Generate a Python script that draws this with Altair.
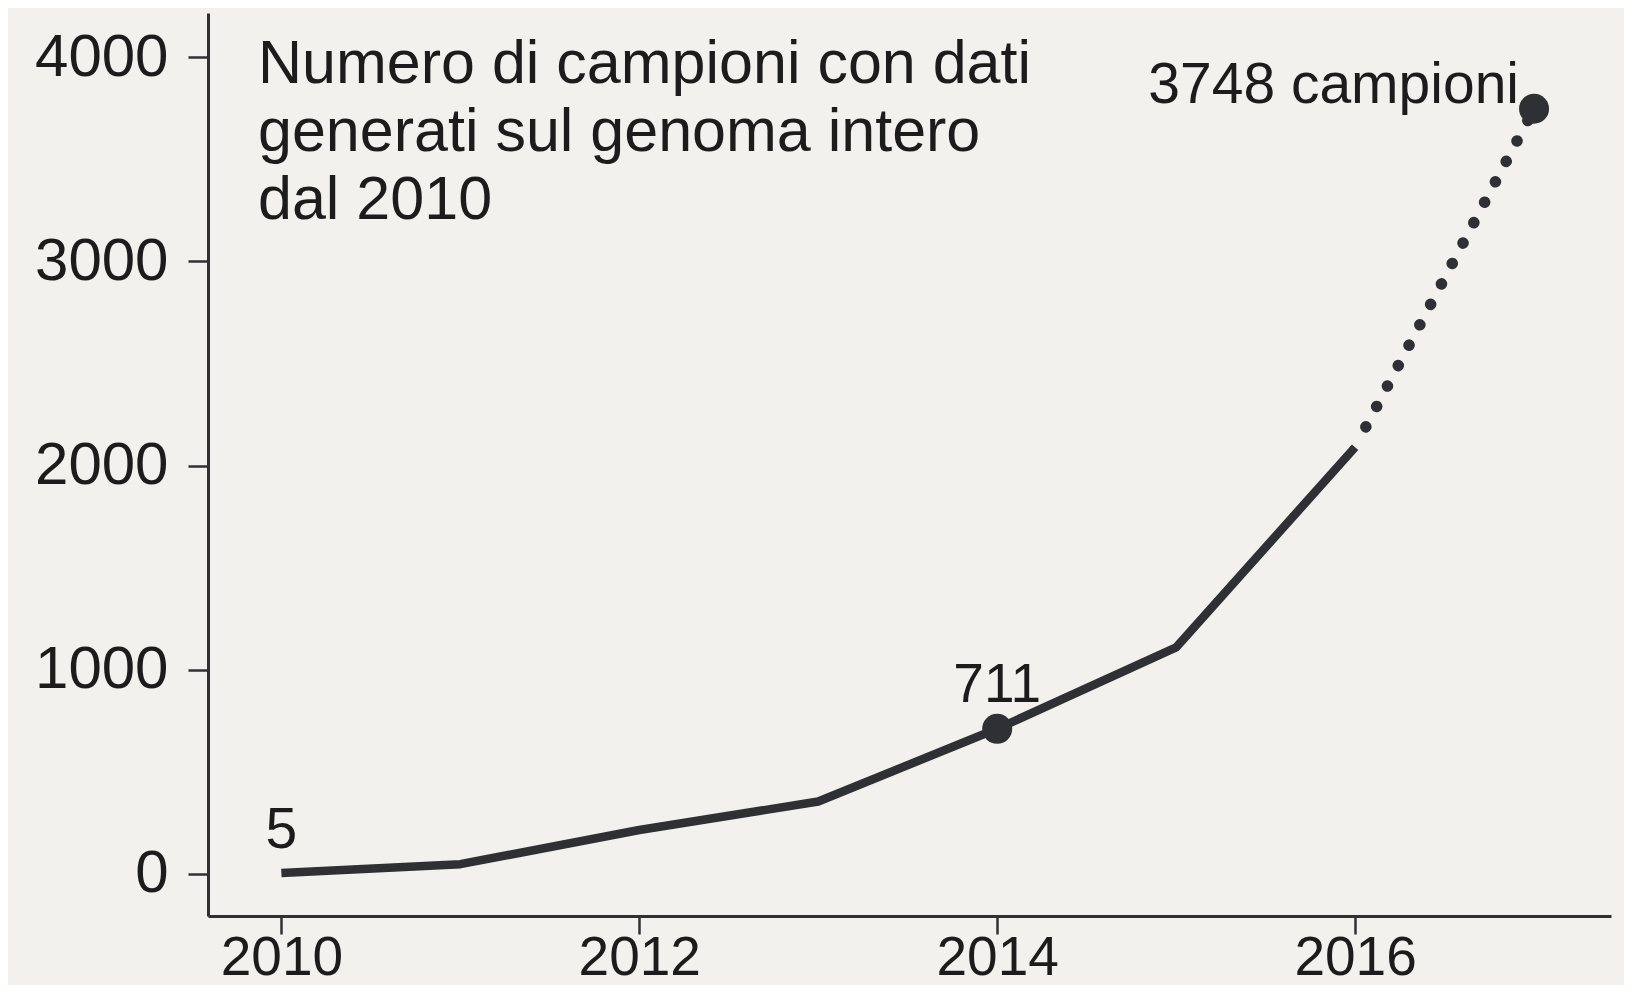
import altair as alt
import pandas as pd

years = [2010, 2011, 2012, 2013, 2014, 2015, 2016, 2017]
values = [5, 48, 215, 355, 711, 1110, 2090, 3748]
label_years = [2010, 2014, 2017]
label_texts = ["5", "711", "3748 campioni"]
point_years = [2014, 2017]
x_ticks = [2010, 2012, 2014, 2016]
y_ticks = [0, 1000, 2000, 3000, 4000]
title_lines = ["Numero di campioni con dati", "generati sul genoma intero", "dal 2010"]

FONT = "Liberation Sans"
INK = "#2e3034"
TEXT = "#1c1c1c"
BG = "#f3f1ed"

df = pd.DataFrame({"year": years, "value": values})
solid = df[df.year <= 2016]
dotted = df[df.year >= 2016]
pts = df[df.year.isin(point_years)]
lab = pd.DataFrame({"year": label_years, "text": label_texts})
lab["value"] = [values[years.index(y)] for y in label_years]

xs = alt.Scale(domain=[2009.59, 2017.43], nice=False, zero=False)
ys = alt.Scale(domain=[-206, 4217], nice=False, zero=False)

X = alt.X("year:Q", scale=xs, title=None,
          axis=alt.Axis(values=x_ticks, format="d", grid=False, labelFont=FONT,
                        labelFontSize=55, labelColor=TEXT, tickSize=18, tickWidth=2.5,
                        tickColor=INK, domainColor=INK, domainWidth=3, labelPadding=-3,
                        labelFlush=False, labelOverlap=False))
Y = alt.Y("value:Q", scale=ys, title=None,
          axis=alt.Axis(values=y_ticks, format="d", grid=False, labelFont=FONT,
                        labelFontSize=60, labelColor=TEXT, tickSize=20, tickWidth=2.5,
                        tickColor=INK, domainColor=INK, domainWidth=3, labelPadding=20,
                        labelFlush=False, labelOverlap=False))

line_solid = alt.Chart(solid).mark_line(color=INK, strokeWidth=8.5, strokeCap="butt",
                                        strokeJoin="round").encode(x=X, y=Y)
line_dot = alt.Chart(dotted).mark_line(color=INK, strokeWidth=11.5, strokeCap="round",
                                       strokeDash=[0.1, 23], strokeDashOffset=-23).encode(x=X, y=Y)
points = alt.Chart(pts).mark_point(filled=True, color=INK, size=900, opacity=1).encode(x=X, y=Y)

def label(text, align, dx, dy, size):
    return alt.Chart(lab[lab.text == text]).mark_text(
        font=FONT, fontSize=size, color=TEXT, align=align, baseline="alphabetic",
        dx=dx, dy=dy).encode(x=X, y=Y, text="text:N")

t5 = label("5", "center", 0, -25, 57)
t711 = label("711", "center", 0, -27, 55)
t3748 = label("3748 campioni", "right", -15, -6, 57)

title = alt.Chart(pd.DataFrame({"t": ["\n".join(title_lines)]})).mark_text(
    font=FONT, fontSize=61, color=TEXT, align="left", baseline="alphabetic",
    lineBreak="\n", lineHeight=68).encode(x=alt.value(50), y=alt.value(70), text="t:N")

chart = alt.layer(line_solid, line_dot, points, t5, t711, t3748, title).properties(
    width=1403, height=903,
    autosize=alt.AutoSizeParams(type="none"),
    padding={"left": 200, "top": 5, "right": 13, "bottom": 69},
    background=BG,
).configure_view(stroke=None)

chart.save("out.html", embed_options={"renderer": "svg", "actions": False})
